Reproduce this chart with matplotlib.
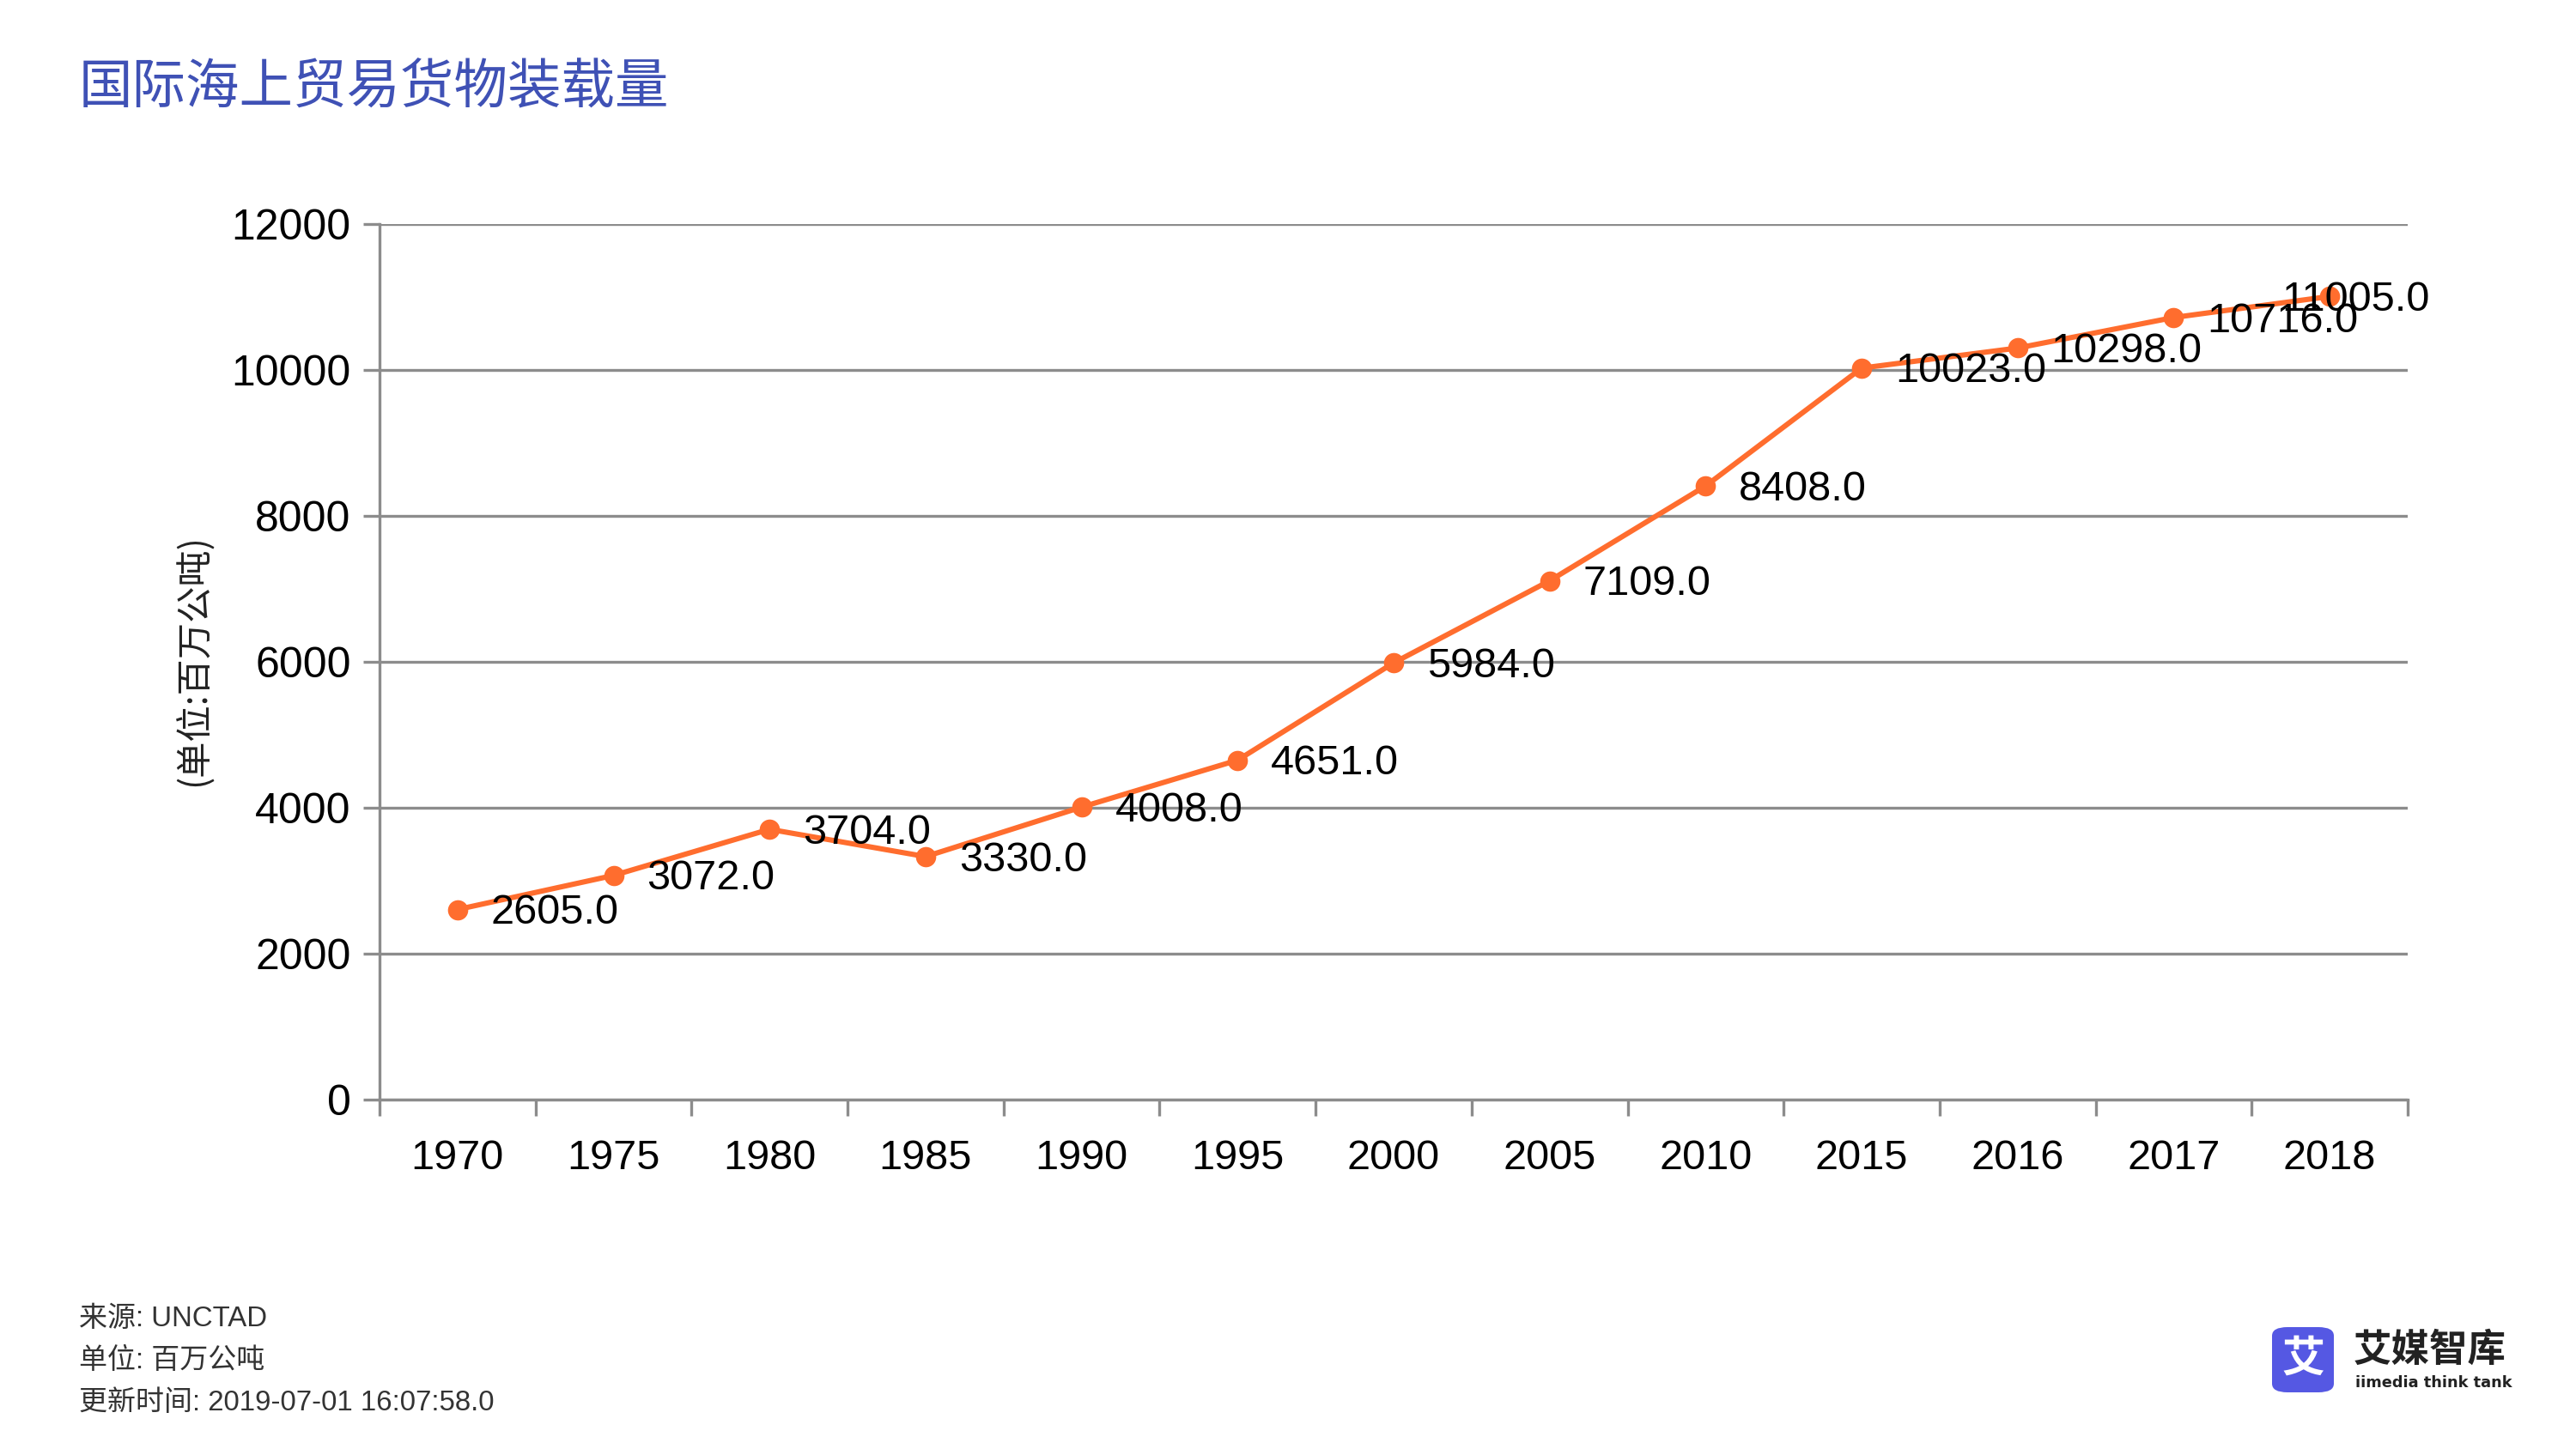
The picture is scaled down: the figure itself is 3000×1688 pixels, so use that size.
import matplotlib
matplotlib.use("Agg")
import matplotlib.pyplot as plt
from matplotlib.patches import FancyBboxPatch
from matplotlib.ticker import FixedLocator, NullFormatter, FixedFormatter

years = ["1970", "1975", "1980", "1985", "1990", "1995", "2000", "2005",
         "2010", "2015", "2016", "2017", "2018"]
values = [2605.0, 3072.0, 3704.0, 3330.0, 4008.0, 4651.0, 5984.0, 7109.0,
          8408.0, 10023.0, 10298.0, 10716.0, 11005.0]
y_ticks = [0, 2000, 4000, 6000, 8000, 10000, 12000]

title = "国际海上贸易货物装载量"
y_label = "(单位:百万公吨)"
footer = ["来源: UNCTAD", "单位: 百万公吨", "更新时间: 2019-07-01 16:07:58.0"]

LAT = ["Liberation Sans", "Noto Sans CJK SC", "DejaVu Sans"]
CJK = ["Noto Sans CJK SC", "DejaVu Sans"]
plt.rcParams["font.family"] = LAT

DPI = 200
W, H = 3000, 1688
fig = plt.figure(figsize=(W / DPI, H / DPI), dpi=DPI)

ax = fig.add_axes([442 / W, 1 - 1281 / H, (2804 - 442) / W, (1281 - 260.7) / H])

GRID = "#8c8c8c"
LINE = "#ff6d2e"
n = len(years)
xs = list(range(n))

ax.set_xlim(-0.5, n - 0.5)
ax.set_ylim(0, 12000)

for y in y_ticks:
    ax.axhline(y, color=GRID, lw=1.2, zorder=1)

ax.plot(xs, values, color=LINE, lw=2.2, marker="o", markersize=7.5,
        zorder=3, clip_on=False)

for i, (x, v) in enumerate(zip(xs, values)):
    dx = 14 if i < n - 1 else -20
    ax.annotate(f"{v:.1f}", (x, v), xytext=(dx, -1.5), textcoords="offset points",
                ha="left", va="center", fontsize=17.5, color="black",
                family=LAT, zorder=4, annotation_clip=False)

for s in ["top", "right"]:
    ax.spines[s].set_visible(False)
for s in ["left", "bottom"]:
    ax.spines[s].set_color(GRID)
    ax.spines[s].set_linewidth(1.2)

ax.set_yticks(y_ticks)
ax.set_yticklabels([str(t) for t in y_ticks])
ax.tick_params(axis="y", length=7, width=1.2, color=GRID, pad=5,
               labelsize=18, labelcolor="black")

ax.xaxis.set_major_locator(FixedLocator([i - 0.5 for i in range(n + 1)]))
ax.xaxis.set_major_formatter(NullFormatter())
ax.xaxis.set_minor_locator(FixedLocator(xs))
ax.xaxis.set_minor_formatter(FixedFormatter(years))
ax.tick_params(axis="x", which="major", length=7, width=1.2, color=GRID)
ax.tick_params(axis="x", which="minor", length=0, pad=16.5, labelsize=17.5,
               labelcolor="black")

fig.text(226 / W, 1 - 769 / H, y_label, rotation=90, ha="center", va="center",
         fontsize=15.2, color="#222222", family=CJK)

fig.text(92 / W, 1 - 102 / H, title, ha="left", va="center", fontsize=22.5,
         color="#3f51b5", family=CJK, fontweight="light")

for i, line in enumerate(footer):
    fig.text(92 / W, 1 - (1537 + 48.5 * i) / H, line, ha="left", va="center",
             fontsize=11.9, color="#333333", family=LAT)

# logo
box = FancyBboxPatch((2646 / W, 1 - 1622 / H), 72 / W, 76 / H,
                     boxstyle="round,pad=0,rounding_size=0.006",
                     transform=fig.transFigure, facecolor="#5558e3",
                     edgecolor="none")
fig.patches.append(box)
fig.text(2682 / W, 1 - 1583 / H, "艾", ha="center", va="center", fontsize=18,
         color="white", fontweight="bold", family=CJK)
fig.text(2741 / W, 1 - 1573 / H, "艾媒智库", ha="left", va="center",
         fontsize=16, color="#222222", fontweight="bold", family=CJK)
fig.text(2743 / W, 1 - 1611 / H, "iimedia think tank", ha="left", va="center",
         fontsize=6.4, color="#222222", fontweight="bold", family=["DejaVu Sans"])

fig.savefig("out.png", dpi=DPI, facecolor="white")
